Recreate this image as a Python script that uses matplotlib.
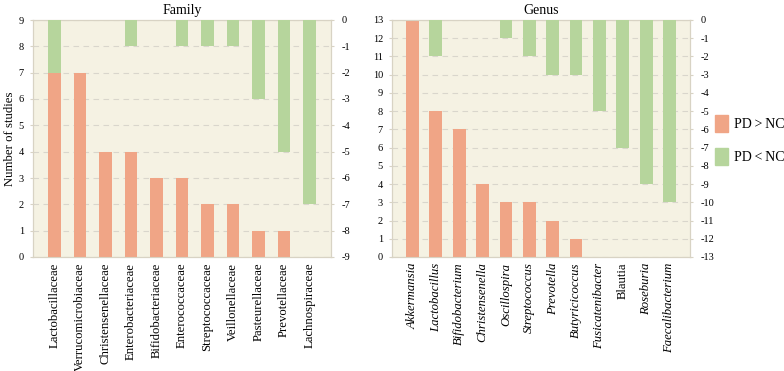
import matplotlib.pyplot as plt
from matplotlib.patches import Patch

# Family panel
family_names = ['Lactobacillaceae', 'Verrucomicrobiaceae', 'Christensenellaceae',
                'Enterobacteriaceae', 'Bifidobacteriaceae', 'Enterococcaceae',
                'Streptococcaceae', 'Veillonellaceae', 'Pasteurellaceae',
                'Prevotellaceae', 'Lachnospiraceae']
family_up = [7, 7, 4, 4, 3, 3, 2, 2, 1, 1, 0]
family_down = [-2, 0, 0, -1, 0, -1, -1, -1, -3, -5, -7]

# Genus panel
genus_names = ['Akkermansia', 'Lactobacillus', 'Bifidobacterium', 'Christensenella',
               'Oscillospira', 'Streptococcus', 'Prevotella', 'Butyricicoccus',
               'Fusicatenibacter', 'Blautia', 'Roseburia', 'Faecalibacterium']
genus_italic = [True, True, True, True, True, True, True, True, True, False, True, True]
genus_up = [13, 8, 7, 4, 3, 3, 2, 1, 0, 0, 0, 0]
genus_down = [0, -2, 0, 0, -1, -2, -3, -3, -5, -7, -9, -10]

RED = '#F0A586'
GREEN = '#B6D59C'
BG = '#F5F2E3'
SPINE = '#D8D3C4'
GRID = '#D9D6CC'

plt.rcParams['font.family'] = ['Liberation Serif', 'DejaVu Serif']
plt.rcParams['axes.unicode_minus'] = False

fig = plt.figure(figsize=(7.84, 3.71), dpi=100)


def panel(rect, names, up, down, ymax, title, italic=None, bw=0.5):
    ax = fig.add_axes(rect)
    ax.set_facecolor(BG)
    x = range(len(names))
    ax.bar(x, up, width=bw, color=RED, zorder=3)
    ax.set_ylim(0, ymax)
    ax.set_yticks(range(0, ymax + 1))
    ax.set_xlim(-0.5 - bw / 2 - 0.1, len(names) - 0.5 + bw / 2 + 0.1)
    ax.grid(True, axis='y', linestyle=(0, (5, 4)), color=GRID, linewidth=0.8, zorder=0)
    ax.set_xticks(list(x))
    ax.set_xticklabels(names, rotation=90, fontsize=9.2)
    if italic is not None:
        for lab, it in zip(ax.get_xticklabels(), italic):
            lab.set_style('italic' if it else 'normal')
    ax.tick_params(axis='x', length=0, pad=4)
    ax.tick_params(axis='y', labelsize=7.5, length=2.5, color=SPINE, pad=4)
    for s in ax.spines.values():
        s.set_color(SPINE)
    ax.set_title(title, fontsize=10, pad=4)

    ax2 = ax.twinx()
    ax2.bar(x, down, width=bw, color=GREEN, zorder=3)
    ax2.set_ylim(-ymax, 0)
    ax2.set_yticks(range(-ymax, 1))
    ax2.tick_params(axis='y', labelsize=7.5, length=2.5, color=SPINE, pad=5)
    for s in ax2.spines.values():
        s.set_color(SPINE)
    return ax


ax1 = panel([33 / 784, 1 - 257 / 371, 298 / 784, 237 / 371],
            family_names, family_up, family_down, 9, 'Family', bw=0.5)
ax1.set_ylabel('Number of studies', fontsize=9.2, labelpad=2)

ax3 = panel([392 / 784, 1 - 257 / 371, 298 / 784, 237 / 371],
            genus_names, genus_up, genus_down, 13, 'Genus', italic=genus_italic, bw=0.55)

handles = [Patch(color=RED), Patch(color=GREEN)]
fig.legend(handles, ['PD\u2009>\u2009NC', 'PD\u2009<\u2009NC'], loc='center left',
           bbox_to_anchor=(715 / 784, 1 - 140 / 371), frameon=False,
           fontsize=10, handlelength=0.95, handleheight=1.45, labelspacing=1.2,
           handletextpad=0.45, borderpad=0, borderaxespad=0)

fig.savefig('out.png', dpi=100)
